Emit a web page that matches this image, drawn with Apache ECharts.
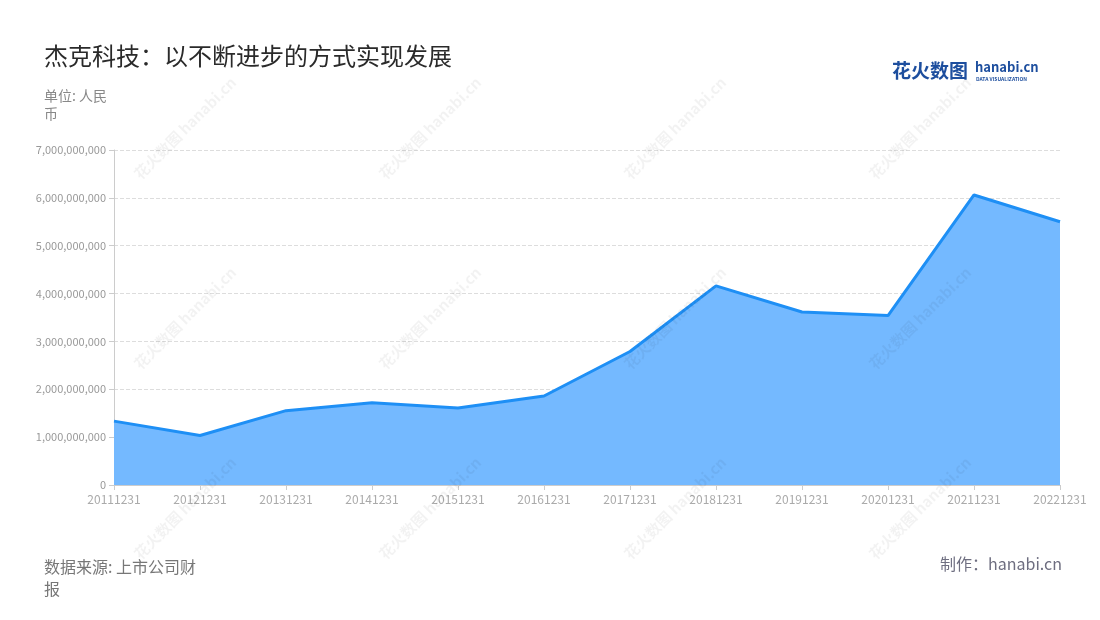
<!DOCTYPE html>
<html>
<head>
<meta charset="utf-8">
<script src="https://cdn.jsdelivr.net/npm/echarts@6/dist/echarts.min.js"></script>
<style>
html,body{margin:0;padding:0;background:#fff;}
#chart{width:1100px;height:620px;}
</style>
</head>
<body>
<div id="chart"></div>
<script>
const categories = ['20111231','20121231','20131231','20141231','20151231','20161231','20171231','20181231','20191231','20201231','20211231','20221231'];
const revenue = [1335000000,1035000000,1553000000,1720000000,1610000000,1860000000,2790000000,4160000000,3615000000,3540000000,6060000000,5500000000];
const yTicks = {min:0, max:7000000000, interval:1000000000};

const FONT = '"Noto Sans CJK SC","Noto Sans",sans-serif';
const chart = echarts.init(document.getElementById('chart'));

const wm = [];
const wmCols = [185, 430, 675, 920];
const wmRows = [128, 318, 508];
wmRows.forEach(y => wmCols.forEach(x => {
  wm.push({
    type:'text', x:x, y:y, rotation: Math.PI/4, z:100, silent:true,
    style:{text:'花火数图 hanabi.cn', fill:'rgba(0,0,0,0.05)', font:'bold 15px ' + FONT, align:'center', verticalAlign:'middle'}
  });
}));

chart.setOption({
  animation:false,
  title:{
    text:'杰克科技：以不断进步的方式实现发展',
    left:39, top:39,
    textStyle:{fontFamily:FONT, fontSize:24, fontWeight:'normal', color:'#2a2a2a'}
  },
  grid:{left:114, right:40, top:150, bottom:135},
  xAxis:{
    type:'category', data:categories, boundaryGap:false,
    axisLine:{lineStyle:{color:'#ccc'}},
    axisTick:{show:true, lineStyle:{color:'#ccc'}},
    axisLabel:{color:'#aaa', fontSize:12, fontFamily:FONT, margin:8, interval:0}
  },
  yAxis:{
    type:'value', min:yTicks.min, max:yTicks.max, interval:yTicks.interval,
    axisLine:{show:true, lineStyle:{color:'#ccc'}},
    axisTick:{show:true, lineStyle:{color:'#ccc'}},
    axisLabel:{color:'#999', fontSize:11, fontFamily:FONT, formatter:v => v.toLocaleString('en-US')},
    splitLine:{lineStyle:{color:'#ddd', type:'dashed'}}
  },
  series:[{
    type:'line', data:revenue, symbol:'none',
    lineStyle:{color:'#1e8ff5', width:3},
    areaStyle:{color:'#74b9ff', opacity:1}
  }],
  graphic:[
    {type:'text', left:44, top:87, style:{text:'单位: 人民\n币', fill:'#888', font:'14px ' + FONT, lineHeight:18}},
    {type:'text', left:44, top:556, style:{text:'数据来源: 上市公司财\n报', fill:'#777', font:'16px ' + FONT, lineHeight:22}},
    {type:'text', right:38, top:556, style:{text:'制作：hanabi.cn', fill:'#6e6e80', font:'16px ' + FONT}},
    {type:'text', left:892, top:61, style:{text:'花火数图', fill:'#1d4e9e', font:'bold 19px ' + FONT}},
    {type:'text', left:975, top:61, style:{text:'hanabi.cn', fill:'#1d4e9e', font:'bold 13px ' + FONT}},
    {type:'text', left:976, top:77, style:{text:'DATA VISUALIZATION', fill:'#1d4e9e', font:'bold 5px ' + FONT}},
    ...wm
  ]
});
</script>
</body>
</html>
